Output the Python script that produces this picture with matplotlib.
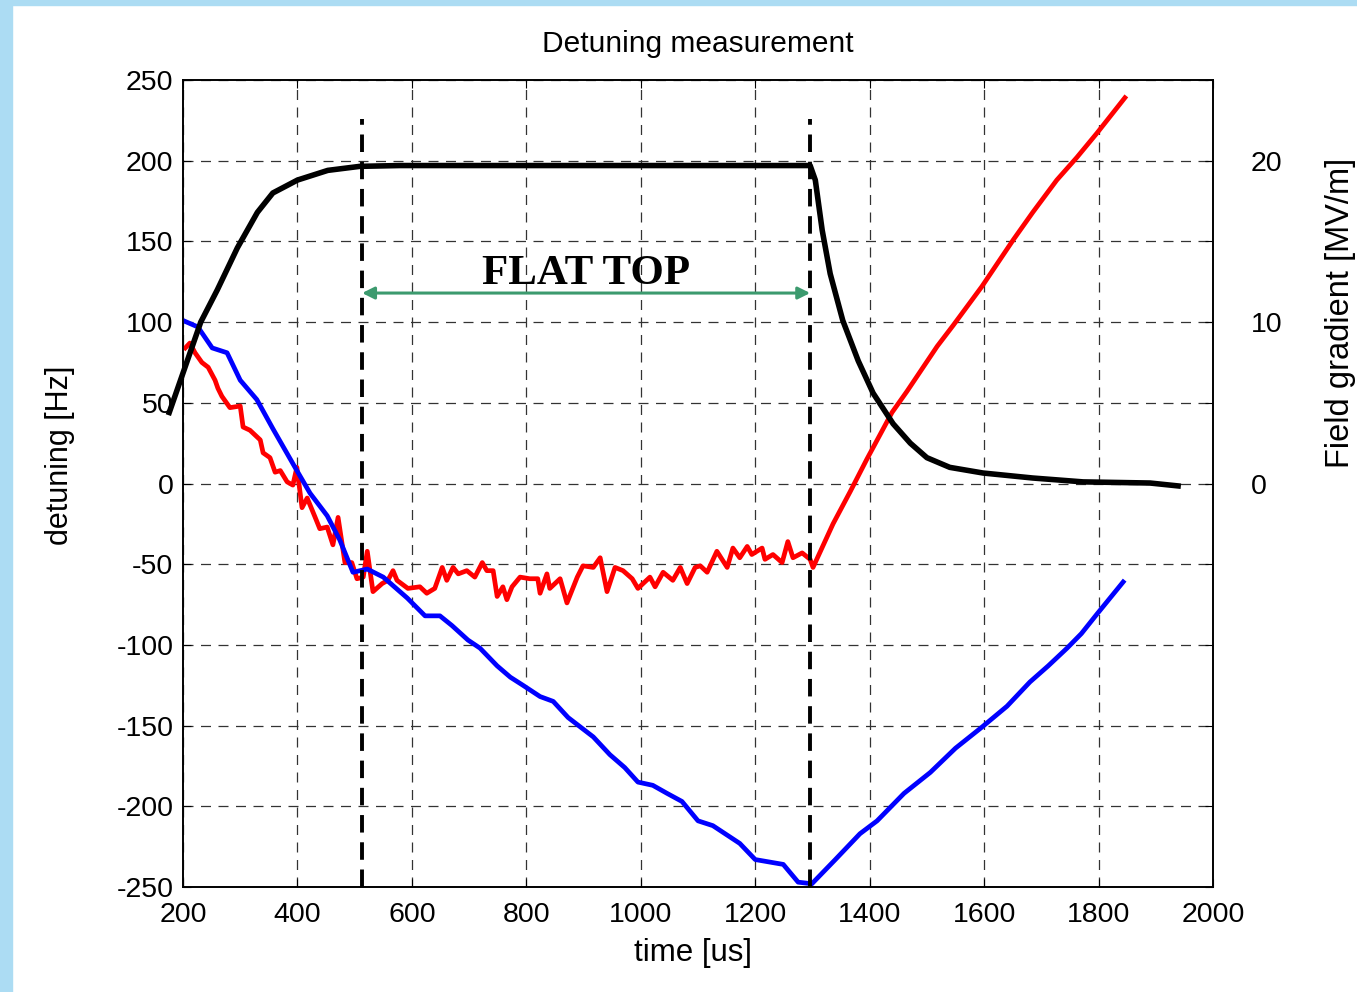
import matplotlib.pyplot as plt
import numpy as np
from matplotlib.patches import Rectangle

# detuning, first curve (blue)
t_blue = [200, 226, 251, 277, 300, 329, 357, 399, 422, 452, 474, 497, 522, 550, 592,
          623, 649, 670, 698, 719, 749, 772, 794, 824, 847, 873, 917, 946, 972, 995,
          1021, 1046, 1072, 1100, 1126, 1173, 1200, 1249, 1275, 1299,
          1340, 1383, 1413, 1460, 1506, 1550, 1596, 1640, 1680, 1712, 1745, 1770, 1797, 1843]
hz_blue = [101, 97, 84, 81, 64, 52, 34, 8, -6, -20, -35, -55, -53, -58, -71,
           -82, -82, -88, -97, -102, -113, -120, -125, -132, -135, -145, -157, -168, -176, -185,
           -187, -192, -197, -209, -212, -223, -233, -236, -247, -248,
           -233, -217, -209, -192, -179, -164, -151, -138, -123, -113, -102, -93, -81, -61]

# detuning, second curve (red)
t_red = [204, 212, 221, 233, 244, 256, 261, 268, 282, 300, 305, 317, 335, 340, 352,
         361, 370, 382, 392, 399, 408, 417, 431, 439, 452, 462, 471, 483, 495, 504,
         515, 522, 532, 548, 558, 567, 574, 593, 614, 626, 640, 653, 661, 672, 681,
         696, 710, 723, 731, 742, 749, 759, 766, 775, 789, 806, 820, 824, 836, 841,
         859, 871, 889, 899, 917, 929, 941, 955, 969, 985, 995, 1016, 1025, 1039, 1056,
         1069, 1081, 1095, 1104, 1116, 1133, 1151, 1161, 1173, 1186, 1194, 1212, 1217, 1231,
         1247, 1257, 1266, 1282, 1296, 1301,
         1336, 1366, 1395, 1439, 1465, 1518, 1546, 1596, 1651, 1685, 1727, 1762, 1797, 1846]
hz_red = [84, 87, 81, 75, 72, 64, 59, 54, 47, 48, 35, 33, 27, 19, 16,
          7, 8, 1, -1, 10, -15, -9, -21, -28, -27, -38, -21, -49, -49, -59,
          -58, -42, -67, -62, -60, -54, -60, -65, -64, -68, -65, -52, -60, -52, -56,
          -54, -58, -49, -54, -54, -70, -64, -72, -64, -58, -59, -59, -68, -56, -65,
          -59, -74, -58, -51, -52, -46, -67, -52, -54, -59, -65, -58, -64, -55, -60,
          -52, -62, -52, -51, -55, -42, -52, -40, -46, -39, -44, -40, -47, -44,
          -49, -36, -46, -43, -47, -52,
          -25, -5, 15, 44, 57, 85, 98, 122, 151, 168, 188, 202, 217, 239]

# field gradient (black, right axis)
t_field = [176, 231, 260, 295, 330, 357, 400, 453, 509, 579, 1296,
           1305, 1317, 1331, 1353, 1380, 1406, 1441, 1471, 1500, 1540, 1598, 1685, 1773, 1890, 1939]
grad_field = [4.4, 10.0, 12.0, 14.6, 16.8, 18.0, 18.8, 19.4, 19.65, 19.7, 19.7,
              18.8, 15.7, 13.0, 10.1, 7.6, 5.6, 3.7, 2.5, 1.6, 1.0, 0.65, 0.34, 0.1, 0.03, -0.15]

flat_start = 513
flat_end = 1296

plt.rcParams['font.family'] = ['Liberation Sans', 'DejaVu Sans']
plt.rcParams['axes.unicode_minus'] = False

fig = plt.figure(figsize=(13.57, 9.92), dpi=100)
fig.patches.append(Rectangle((0, 0), 12 / 1357, 1, transform=fig.transFigure,
                             color='#acdcf3', zorder=0))
fig.patches.append(Rectangle((0, 1 - 5 / 992), 1, 5 / 992, transform=fig.transFigure,
                             color='#acdcf3', zorder=0))

ax = fig.add_axes([183 / 1357, 1 - 887 / 992, 1030 / 1357, 807 / 992])
ax2 = ax.twinx()

ax.plot(t_red, hz_red, color='red', lw=3.4, zorder=3)
ax.plot(t_blue, hz_blue, color='blue', lw=3.4, zorder=3)
ax2.plot(t_field, grad_field, color='black', lw=4, clip_on=False, zorder=4)

for xv in [flat_start, flat_end]:
    ax.plot([xv, xv], [-250, 226], color='black', lw=2.8, dashes=(4.5, 2.5), zorder=4)

ax.annotate('', xy=(flat_start, 118), xytext=(flat_end, 118),
            arrowprops=dict(arrowstyle='<|-|>', color='#3c9a6e', lw=2.2,
                            shrinkA=0, shrinkB=0, mutation_scale=18))
ax.text((flat_start + flat_end) / 2, 130, 'FLAT TOP', ha='center', va='center',
        fontsize=31, fontweight='bold', family='Liberation Serif')

ax.set_xlim(200, 2000)
ax.set_ylim(-250, 250)
ax.set_xticks(np.arange(200, 2001, 200))
ax.set_yticks(np.arange(-250, 251, 50))
ax2.set_ylim(-25, 25)
ax2.set_yticks([0, 10, 20])

ax.grid(True, color='0.2', lw=0.9, dashes=(8, 6))
ax.tick_params(direction='in', top=True, right=True, labelsize=20.5, length=6, pad=11)
ax.tick_params(axis='y', pad=7)
ax2.tick_params(direction='in', labelsize=20.5, length=6, pad=27)
for a in [ax, ax2]:
    for s in a.spines.values():
        s.set_linewidth(1.2)

fig.text(698 / 1357, 1 - 44 / 992, 'Detuning measurement', ha='center', va='center', fontsize=21.5)
fig.text(693 / 1357, 1 - 953 / 992, 'time [us]', ha='center', va='center', fontsize=22.5)
fig.text(60 / 1357, 1 - 455 / 992, 'detuning [Hz]', ha='center', va='center',
         rotation=90, fontsize=22)
fig.text(1340 / 1357, 1 - 313 / 992, 'Field gradient [MV/m]', ha='center', va='center',
         rotation=90, fontsize=23.5)

fig.savefig('out.png', dpi=100)
